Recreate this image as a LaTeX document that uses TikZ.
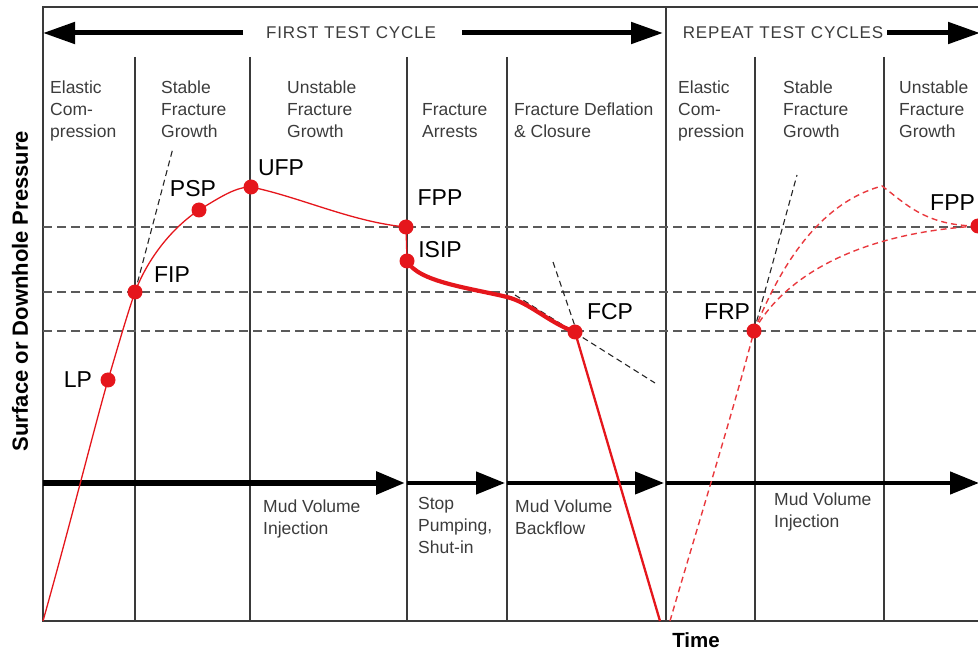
\documentclass[tikz,border=0pt]{standalone}
\usepackage{fontspec}
\setmainfont{Liberation Sans}
\usetikzlibrary{arrows.meta}
\definecolor{curvered}{HTML}{E5161C}
\definecolor{labelgray}{HTML}{3C3C3C}
\definecolor{gridgray}{HTML}{5A5A5A}
\definecolor{rulegray}{HTML}{3A3A3A}

\begin{document}
\begin{tikzpicture}[x=1pt,y=-1pt,
  phase/.style={anchor=north west, align=left, inner sep=0pt,
    font=\fontsize{17.5}{22}\selectfont, text=labelgray},
  ptlabel/.style={inner sep=0pt, font=\fontsize{23}{26}\selectfont, text=black},
  dot/.style={circle, fill=curvered, inner sep=0pt, minimum size=15pt},
  divider/.style={draw=rulegray, line width=1.1pt},
  level/.style={draw=gridgray, dash pattern=on 9pt off 5pt, line width=1.3pt},
  tangent/.style={draw=black!85, dash pattern=on 6pt off 4pt, line width=1.1pt},
  cyclearrow/.style={line width=5pt, -{Triangle[length=32pt,width=21pt]}},
  flowarrow/.style={line width=5pt, -{Triangle[length=29pt,width=22pt]}},
  heading/.style={inner sep=0pt, font=\fontsize{17}{20}\selectfont\addfontfeature{LetterSpace=5}, text=labelgray},
  redline/.style={draw=curvered, line width=1.3pt},
  reddash/.style={draw=curvered!85, dash pattern=on 6pt off 4pt, line width=1.4pt}]

\useasboundingbox (0,0) rectangle (978,652);

% frame and axes
\draw[divider] (978,7) -- (43,7) -- (43,621) -- (978,621);
\draw[divider] (666,7) -- (666,621);
\foreach \xx in {135,250,407,507,755,884}
  \draw[divider] (\xx,57) -- (\xx,621);

% pressure levels
\foreach \yy in {227,292,331}
  \draw[level] (43,\yy) -- (978,\yy);

% cycle headings
\node[heading] (first) at (351,33) {FIRST TEST CYCLE};
\node[heading] (repeat) at (783,33) {REPEAT TEST CYCLES};
\coordinate (leftend) at (43,33);
\coordinate (firstend) at (663,33);
\coordinate (repend) at (980,33);
\draw[cyclearrow] (243,33) -- (leftend);
\draw[cyclearrow] (462,33) -- (firstend);
\draw[cyclearrow] (887,33) -- (repend);

% phase labels
\node[phase] (p1) at (50,81) {Elastic\\Com-\\pression};
\node[phase] (p2) at (161,81) {Stable\\Fracture\\Growth};
\node[phase] (p3) at (287,81) {Unstable\\Fracture\\Growth};
\node[phase] (p4) at (422,103) {Fracture\\Arrests};
\node[phase] (p5) at (514,103) {Fracture Deflation\\\& Closure};
\node[phase] (p6) at (678,81) {Elastic\\Com-\\pression};
\node[phase] (p7) at (783,81) {Stable\\Fracture\\Growth};
\node[phase] (p8) at (899,81) {Unstable\\Fracture\\Growth};

% flow arrows
\coordinate (f0) at (43,483);
\coordinate (f1) at (405,483);
\coordinate (f1b) at (407,483);
\coordinate (f2) at (505,483);
\coordinate (f2b) at (507,483);
\coordinate (f3) at (664,483);
\coordinate (f3b) at (666,483);
\coordinate (f4) at (979,483);
\draw[flowarrow, line width=6pt] (f0) -- (f1);
\draw[flowarrow, line width=4.5pt] (f1b) -- (f2);
\draw[flowarrow, line width=4pt] (f2b) -- (f3);
\draw[flowarrow, line width=4.5pt] (f3b) -- (f4);

\node[phase] (q1) at (263,500) {Mud Volume\\Injection};
\node[phase] (q2) at (418,497) {Stop\\Pumping,\\Shut-in};
\node[phase] (q3) at (515,500) {Mud Volume\\Backflow};
\node[phase] (q4) at (774,493) {Mud Volume\\Injection};

% key points of the pressure record
\coordinate (start) at (43,621);
\coordinate (cLP) at (108,380);
\coordinate (cFIP) at (135,292);
\coordinate (cPSP) at (199,210);
\coordinate (cUFP) at (251,187);
\coordinate (cFPP) at (406,227);
\coordinate (cISIP) at (407,261);
\coordinate (cFCP) at (575,332);
\coordinate (bottom) at (660,621);
\coordinate (restart) at (670,621);
\coordinate (cFRP) at (754,331);
\coordinate (cFPPr) at (978,226);
\coordinate (peak) at (882,186);

% tangent construction lines
\coordinate (tFIP) at (173,148);
\draw[tangent] (cFIP) -- (tFIP);
\coordinate (tFCPa) at (553,262);
\coordinate (tFCPb) at (579,338);
\draw[tangent] (tFCPa) -- (tFCPb);
\coordinate (tFCPc) at (515,295);
\coordinate (tFCPd) at (655,383);
\draw[tangent] (tFCPc) -- (tFCPd);
\coordinate (tFRP) at (797,175);
\draw[tangent] (cFRP) -- (tFRP);

% first cycle pressure curve
\draw[redline] (start) .. controls (70,525) and (95,425) .. (cLP)
  .. controls (117,350) and (126,318) .. (cFIP)
  .. controls (148,258) and (172,228) .. (cPSP)
  .. controls (222,196) and (236,187) .. (cUFP)
  .. controls (300,197) and (352,222) .. (cFPP) -- (cISIP);
\draw[draw=curvered, line width=4.2pt, line cap=round]
  (cISIP) .. controls (418,282) and (470,288) .. (507,297)
  .. controls (530,303) and (548,322) .. (cFCP);
\draw[draw=curvered, line width=2.3pt] (cFCP) -- (bottom);

% repeat cycle pressure curves
\draw[reddash] (restart) .. controls (698,525) and (735,405) .. (cFRP);
\draw[reddash] (cFRP) .. controls (775,280) and (812,205) .. (peak)
  .. controls (905,203) and (925,226) .. (cFPPr);
\draw[reddash] (cFRP) .. controls (785,275) and (860,233) .. (cFPPr);

% point markers and labels
\foreach \p in {LP,FIP,PSP,UFP,FPP,ISIP,FCP,FRP}
  \node[dot] (\p) at (c\p) {};
\node[dot] (FPPr) at (cFPPr) {};

\node[ptlabel] (lLP) at (78,380) {LP};
\node[ptlabel] (lFIP) at (172,275) {FIP};
\node[ptlabel] (lPSP) at (193,189) {PSP};
\node[ptlabel] (lUFP) at (281,168) {UFP};
\node[ptlabel] (lFPP) at (440,198) {FPP};
\node[ptlabel] (lISIP) at (440,250) {ISIP};
\node[ptlabel] (lFCP) at (610,312) {FCP};
\node[ptlabel] (lFRP) at (727,312) {FRP};
\node[ptlabel, anchor=west] (lFPPr) at (930,203) {FPP};

% axis titles
\node[inner sep=0pt, rotate=90, font=\fontsize{22}{24}\selectfont\bfseries] (yaxis) at (20,291) {Surface or Downhole Pressure};
\node[inner sep=0pt, font=\fontsize{20.5}{24}\selectfont\bfseries] (xaxis) at (696,640) {Time};

\end{tikzpicture}
\end{document}
